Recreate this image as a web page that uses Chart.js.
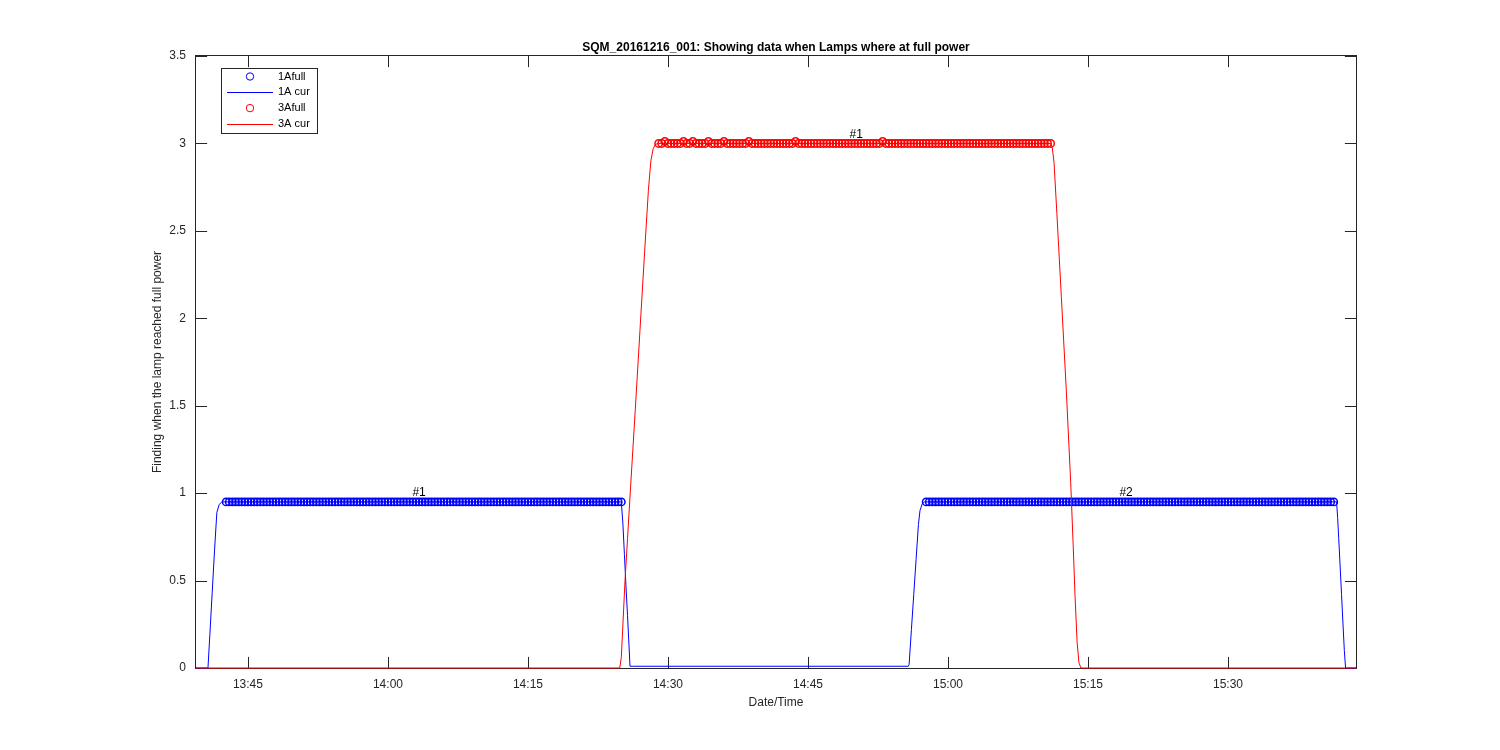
<!DOCTYPE html>
<html><head><meta charset="utf-8">
<script src="https://cdn.jsdelivr.net/npm/chart.js@4.4.0/dist/chart.umd.min.js"></script>
<style>html,body{margin:0;padding:0;background:#fff;}canvas{display:block;}</style>
</head><body>
<canvas id="c" width="1500" height="750"></canvas>
<script>
// ---------- text ----------
const chartTitle = "SQM_20161216_001: Showing data when Lamps where at full power";
const xAxisTitle = "Date/Time";
const yAxisTitle = "Finding when the lamp reached full power";
const seriesNames = ["1Afull", "1A cur", "3Afull", "3A cur"];

// ---------- axes (x = seconds after 13:00:00) ----------
const xMin = 2366, xMax = 9823;
const xTickValues = [2700, 3600, 4500, 5400, 6300, 7200, 8100, 9000];
const xTickLabels = ["13:45", "14:00", "14:15", "14:30", "14:45", "15:00", "15:15", "15:30"];
const yTickValues = [0, 0.5, 1, 1.5, 2, 2.5, 3, 3.5];
const yTickLabels = ["0", "0.5", "1", "1.5", "2", "2.5", "3", "3.5"];
const yMin = 0, yMax = 3.5;

// ---------- 1A at full power (circles) ----------
const lamp1FullTimes = [
2560,2580,2600,2620,2640,2660,2680,2700,2720,2740,
2760,2780,2800,2820,2840,2860,2880,2900,2920,2940,
2960,2980,3000,3020,3040,3060,3080,3100,3120,3140,
3160,3180,3200,3220,3240,3260,3280,3300,3320,3340,
3360,3380,3400,3420,3440,3460,3480,3500,3520,3540,
3560,3580,3600,3620,3640,3660,3680,3700,3720,3740,
3760,3780,3800,3820,3840,3860,3880,3900,3920,3940,
3960,3980,4000,4020,4040,4060,4080,4100,4120,4140,
4160,4180,4200,4220,4240,4260,4280,4300,4320,4340,
4360,4380,4400,4420,4440,4460,4480,4500,4520,4540,
4560,4580,4600,4620,4640,4660,4680,4700,4720,4740,
4760,4780,4800,4820,4840,4860,4880,4900,4920,4940,
4960,4980,5000,5020,5040,5060,5080,5100,
7060,7080,7100,7120,7140,7160,7180,7200,7220,7240,
7260,7280,7300,7320,7340,7360,7380,7400,7420,7440,
7460,7480,7500,7520,7540,7560,7580,7600,7620,7640,
7660,7680,7700,7720,7740,7760,7780,7800,7820,7840,
7860,7880,7900,7920,7940,7960,7980,8000,8020,8040,
8060,8080,8100,8120,8140,8160,8180,8200,8220,8240,
8260,8280,8300,8320,8340,8360,8380,8400,8420,8440,
8460,8480,8500,8520,8540,8560,8580,8600,8620,8640,
8660,8680,8700,8720,8740,8760,8780,8800,8820,8840,
8860,8880,8900,8920,8940,8960,8980,9000,9020,9040,
9060,9080,9100,9120,9140,9160,9180,9200,9220,9240,
9260,9280,9300,9320,9340,9360,9380,9400,9420,9440,
9460,9480,9500,9520,9540,9560,9580,9600,9620,9640,
9660,9680];
const lamp1FullValues = [
0.95,0.95,0.95,0.95,0.95,0.95,0.95,0.95,0.95,0.95,
0.95,0.95,0.95,0.95,0.95,0.95,0.95,0.95,0.95,0.95,
0.95,0.95,0.95,0.95,0.95,0.95,0.95,0.95,0.95,0.95,
0.95,0.95,0.95,0.95,0.95,0.95,0.95,0.95,0.95,0.95,
0.95,0.95,0.95,0.95,0.95,0.95,0.95,0.95,0.95,0.95,
0.95,0.95,0.95,0.95,0.95,0.95,0.95,0.95,0.95,0.95,
0.95,0.95,0.95,0.95,0.95,0.95,0.95,0.95,0.95,0.95,
0.95,0.95,0.95,0.95,0.95,0.95,0.95,0.95,0.95,0.95,
0.95,0.95,0.95,0.95,0.95,0.95,0.95,0.95,0.95,0.95,
0.95,0.95,0.95,0.95,0.95,0.95,0.95,0.95,0.95,0.95,
0.95,0.95,0.95,0.95,0.95,0.95,0.95,0.95,0.95,0.95,
0.95,0.95,0.95,0.95,0.95,0.95,0.95,0.95,0.95,0.95,
0.95,0.95,0.95,0.95,0.95,0.95,0.95,0.95,
0.95,0.95,0.95,0.95,0.95,0.95,0.95,0.95,0.95,0.95,
0.95,0.95,0.95,0.95,0.95,0.95,0.95,0.95,0.95,0.95,
0.95,0.95,0.95,0.95,0.95,0.95,0.95,0.95,0.95,0.95,
0.95,0.95,0.95,0.95,0.95,0.95,0.95,0.95,0.95,0.95,
0.95,0.95,0.95,0.95,0.95,0.95,0.95,0.95,0.95,0.95,
0.95,0.95,0.95,0.95,0.95,0.95,0.95,0.95,0.95,0.95,
0.95,0.95,0.95,0.95,0.95,0.95,0.95,0.95,0.95,0.95,
0.95,0.95,0.95,0.95,0.95,0.95,0.95,0.95,0.95,0.95,
0.95,0.95,0.95,0.95,0.95,0.95,0.95,0.95,0.95,0.95,
0.95,0.95,0.95,0.95,0.95,0.95,0.95,0.95,0.95,0.95,
0.95,0.95,0.95,0.95,0.95,0.95,0.95,0.95,0.95,0.95,
0.95,0.95,0.95,0.95,0.95,0.95,0.95,0.95,0.95,0.95,
0.95,0.95,0.95,0.95,0.95,0.95,0.95,0.95,0.95,0.95,
0.95,0.95];

// ---------- 1A current (line) ----------
const lamp1CurTimes = [2366,2443,2455,2470,2485,2500,2515,2530,2545,
  5100,5110,5120,5130,5140,5150,5156,5170,
  6945,6950,6965,6980,6995,7010,7020,7035,7050,
  9698,9705,9712,9720,9730,9740,9748,9756,9823];
const lamp1CurValues = [0,0,0.19,0.43,0.67,0.89,0.935,0.948,0.95,
  0.95,0.83,0.65,0.47,0.30,0.12,0.01,0.01,
  0.01,0.02,0.22,0.42,0.62,0.82,0.9,0.94,0.95,
  0.95,0.86,0.74,0.6,0.42,0.24,0.1,0,0];

// ---------- 3A at full power (circles) ----------
const lamp3FullTimes = [
5340,5360,5380,5400,5420,5440,5460,5480,5500,5520,
5540,5560,5580,5600,5620,5640,5660,5680,5700,5720,
5740,5760,5780,5800,5820,5840,5860,5880,5900,5920,
5940,5960,5980,6000,6020,6040,6060,6080,6100,6120,
6140,6160,6180,6200,6220,6240,6260,6280,6300,6320,
6340,6360,6380,6400,6420,6440,6460,6480,6500,6520,
6540,6560,6580,6600,6620,6640,6660,6680,6700,6720,
6740,6760,6780,6800,6820,6840,6860,6880,6900,6920,
6940,6960,6980,7000,7020,7040,7060,7080,7100,7120,
7140,7160,7180,7200,7220,7240,7260,7280,7300,7320,
7340,7360,7380,7400,7420,7440,7460,7480,7500,7520,
7540,7560,7580,7600,7620,7640,7660,7680,7700,7720,
7740,7760,7780,7800,7820,7840,7860];
const lamp3FullValues = [
3,3,3.012,3,3,3,3,3,3.012,3,
3,3.012,3,3,3,3,3.012,3,3,3,
3,3.012,3,3,3,3,3,3,3,3.012,
3,3,3,3,3,3,3,3,3,3,
3,3,3,3,3.012,3,3,3,3,3,
3,3,3,3,3,3,3,3,3,3,
3,3,3,3,3,3,3,3,3,3,
3,3,3.012,3,3,3,3,3,3,3,
3,3,3,3,3,3,3,3,3,3,
3,3,3,3,3,3,3,3,3,3,
3,3,3,3,3,3,3,3,3,3,
3,3,3,3,3,3,3,3,3,3,
3,3,3,3,3,3,3];

// ---------- 3A current (line) ----------
const lamp3CurTimes = [2366,5090,5100,5112,5124,5140,5160,5190,5220,5250,5274,5290,5305,5320,5340,
  7860,7870,7882,7900,7929,7960,7989,8005,8017,8030,8042,8055,9823];
const lamp3CurValues = [0,0,0.06,0.28,0.5,0.74,1.04,1.48,1.93,2.38,2.73,2.9,2.97,2.995,3.0,
  3.0,2.98,2.89,2.6,2.12,1.6,1.06,0.7,0.41,0.15,0.03,0,0];

// ---------- text annotations ----------
const annotationTexts = ["#1", "#1", "#2"];
const annotationTimes = [3800, 6610, 8345];
const annotationValues = [1.0, 3.05, 1.0];

const blue = "#0000ff", red = "#ff0000", axisColor = "#262626";
const FONT = "'Liberation Sans', Arial, Helvetica, sans-serif";

function pts(t, v) { return t.map((x, i) => ({ x: x, y: v[i] })); }

const boxPlugin = {
  id: "matlabAxes",
  beforeDatasetsDraw(chart) {
    const { ctx, chartArea: a, scales } = chart;
    ctx.save();
    ctx.strokeStyle = axisColor;
    ctx.lineWidth = 1;
    const L = Math.round(a.left) - 0.5, R = Math.round(a.right) + 0.5;
    const T = Math.round(a.top) - 0.5, B = Math.round(a.bottom) + 0.5;
    ctx.strokeRect(L, T, R - L, B - T);
    const tl = 11.6;
    ctx.beginPath();
    scales.x.ticks.forEach(t => {
      const px = Math.round(scales.x.getPixelForValue(t.value)) + 0.5;
      ctx.moveTo(px, B); ctx.lineTo(px, B - tl);
      ctx.moveTo(px, T); ctx.lineTo(px, T + tl);
    });
    scales.y.ticks.forEach(t => {
      const py = Math.round(scales.y.getPixelForValue(t.value)) + 0.5;
      ctx.moveTo(L, py); ctx.lineTo(L + tl, py);
      ctx.moveTo(R, py); ctx.lineTo(R - tl, py);
    });
    ctx.stroke();
    ctx.restore();
  },
  afterDraw(chart) {
    const { ctx, chartArea: a, scales } = chart;
    ctx.save();
    ctx.fillStyle = "#000";
    ctx.font = "bold 12px " + FONT;
    ctx.textAlign = "center"; ctx.textBaseline = "middle";
    ctx.fillText(chartTitle, (a.left + a.right) / 2, 47.5);
    ctx.font = "12px " + FONT;
    annotationTexts.forEach((s, i) => {
      ctx.fillText(s, scales.x.getPixelForValue(annotationTimes[i]), scales.y.getPixelForValue(annotationValues[i]));
    });
    const bx = 221.5, by = 68.5, bw = 96, bh = 65;
    ctx.fillStyle = "#fff";
    ctx.fillRect(bx, by, bw, bh);
    ctx.strokeStyle = axisColor; ctx.lineWidth = 1;
    ctx.strokeRect(bx, by, bw, bh);
    const rows = [76.5, 92.3, 108.1, 123.9];
    ctx.font = "11px " + FONT;
    ctx.textAlign = "left";
    chart.data.datasets.forEach((ds, i) => {
      const y = rows[i];
      ctx.strokeStyle = ds.borderColor;
      ctx.lineWidth = 1;
      if (ds.showLine) {
        ctx.beginPath(); ctx.moveTo(227, Math.round(y) + 0.5); ctx.lineTo(273, Math.round(y) + 0.5); ctx.stroke();
      } else {
        ctx.beginPath(); ctx.arc(250, y, 3.7, 0, Math.PI * 2); ctx.stroke();
      }
      ctx.fillStyle = "#000";
      ctx.fillText(ds.label, 278, y);
    });
    ctx.restore();
  }
};

new Chart(document.getElementById("c"), {
  type: "scatter",
  data: {
    datasets: [
      { label: seriesNames[0], data: pts(lamp1FullTimes, lamp1FullValues), showLine: false,
        borderColor: blue, backgroundColor: "rgba(0,0,0,0)", pointRadius: 3.7, pointBorderWidth: 1.5, order: 3 },
      { label: seriesNames[1], data: pts(lamp1CurTimes, lamp1CurValues), showLine: true,
        borderColor: blue, borderWidth: 1, pointRadius: 0, tension: 0, order: 2,
        clip: { left: 0, right: 0, top: 0, bottom: 3 } },
      { label: seriesNames[2], data: pts(lamp3FullTimes, lamp3FullValues), showLine: false,
        borderColor: red, backgroundColor: "rgba(0,0,0,0)", pointRadius: 3.7, pointBorderWidth: 1.5, order: 1 },
      { label: seriesNames[3], data: pts(lamp3CurTimes, lamp3CurValues), showLine: true,
        borderColor: red, borderWidth: 1, pointRadius: 0, tension: 0, order: 0,
        clip: { left: 0, right: 0, top: 0, bottom: 3 } }
    ]
  },
  options: {
    responsive: false,
    animation: false,
    events: [],
    devicePixelRatio: 1,
    layout: { padding: { left: 0, right: 144, top: 56, bottom: 0 } },
    plugins: { legend: { display: false }, tooltip: { enabled: false }, title: { display: false } },
    scales: {
      x: {
        type: "linear", min: xMin, max: xMax,
        afterBuildTicks: s => { s.ticks = xTickValues.map(v => ({ value: v })); },
        afterFit: s => { s.height = 82; },
        grid: { display: false, drawTicks: false },
        border: { display: false },
        ticks: { autoSkip: false, maxRotation: 0, padding: 9, color: axisColor,
          font: { family: FONT, size: 12 },
          callback: (v) => { const i = xTickValues.indexOf(v); return i >= 0 ? xTickLabels[i] : ""; } },
        title: { display: true, text: xAxisTitle, color: axisColor, font: { family: FONT, size: 12 },
          padding: { top: 0, bottom: 40 } }
      },
      y: {
        type: "linear", min: yMin, max: yMax,
        afterBuildTicks: s => { s.ticks = yTickValues.map(v => ({ value: v })); },
        afterFit: s => { s.width = 196; },
        grid: { display: false, drawTicks: false },
        border: { display: false },
        ticks: { padding: 10, color: axisColor, font: { family: FONT, size: 12 },
          callback: (v) => { const i = yTickValues.indexOf(v); return i >= 0 ? yTickLabels[i] : ""; } },
        title: { display: true, text: yAxisTitle, color: axisColor, font: { family: FONT, size: 12 },
          padding: { top: 150, bottom: 0 } }
      }
    }
  },
  plugins: [boxPlugin]
});
</script>
</body></html>
